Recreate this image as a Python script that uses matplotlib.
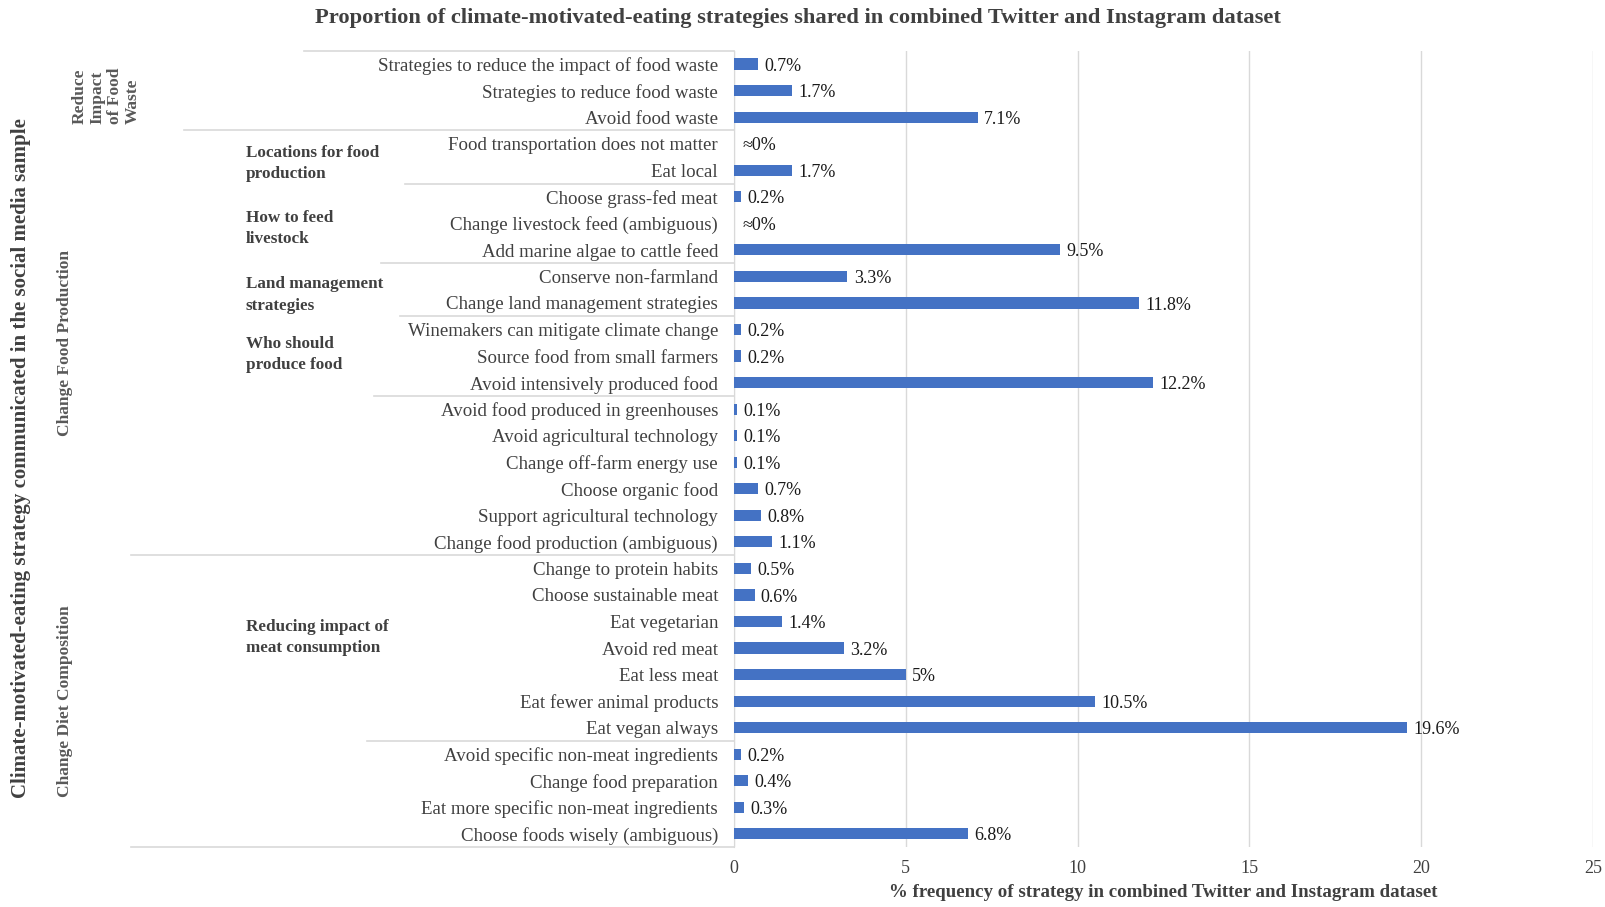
import numpy as np
import matplotlib.pyplot as plt
from matplotlib.transforms import blended_transform_factory

plt.rcParams['font.family'] = ['Liberation Serif', 'DejaVu Serif']

# data, top to bottom as in the chart
strategies = [
    "Strategies to reduce the impact of food waste",
    "Strategies to reduce food waste",
    "Avoid food waste",
    "Food transportation does not matter",
    "Eat local",
    "Choose grass-fed meat",
    "Change livestock feed (ambiguous)",
    "Add marine algae to cattle feed",
    "Conserve non-farmland",
    "Change land management strategies",
    "Winemakers can mitigate climate change",
    "Source food from small farmers",
    "Avoid intensively produced food",
    "Avoid food produced in greenhouses",
    "Avoid agricultural technology",
    "Change off-farm energy use",
    "Choose organic food",
    "Support agricultural technology",
    "Change food production (ambiguous)",
    "Change to protein habits",
    "Choose sustainable meat",
    "Eat vegetarian",
    "Avoid red meat",
    "Eat less meat",
    "Eat fewer animal products",
    "Eat vegan always",
    "Avoid specific non-meat ingredients",
    "Change food preparation",
    "Eat more specific non-meat ingredients",
    "Choose foods wisely (ambiguous)",
]
values = [0.7, 1.7, 7.1, 0.0, 1.7, 0.2, 0.0, 9.5, 3.3, 11.8, 0.2, 0.2, 12.2,
          0.1, 0.1, 0.1, 0.7, 0.8, 1.1, 0.5, 0.6, 1.4, 3.2, 5.0, 10.5, 19.6,
          0.2, 0.4, 0.3, 6.8]
value_labels = ["0.7%", "1.7%", "7.1%", "≈0%", "1.7%", "0.2%", "≈0%", "9.5%",
                "3.3%", "11.8%", "0.2%", "0.2%", "12.2%", "0.1%", "0.1%", "0.1%",
                "0.7%", "0.8%", "1.1%", "0.5%", "0.6%", "1.4%", "3.2%", "5%",
                "10.5%", "19.6%", "0.2%", "0.4%", "0.3%", "6.8%"]

# top-level groups: (label, first row, last row)
level1 = [("Reduce\nImpact\nof Food\nWaste", 0, 2),
          ("Change Food Production", 3, 18),
          ("Change Diet Composition", 19, 29)]
# sub groups: (label, row where the label sits)
level2 = [("Locations for food\nproduction", 3.75),
          ("How to feed\nlivestock", 6.2),
          ("Land management\nstrategies", 8.7),
          ("Who should\nproduce food", 10.95),
          ("Reducing impact of\nmeat consumption", 21.6)]
# separator lines: (row boundary, left start in px)
separators = [(-0.5, 304), (2.5, 184), (4.5, 405), (7.5, 381), (9.5, 400),
              (12.5, 374), (18.5, 131), (25.5, 367), (29.5, 131)]

W, H = 1606, 907
fig = plt.figure(figsize=(W / 100, H / 100), dpi=100)
ax = fig.add_axes([734 / W, 0.066, (1593 - 734) / W, 0.878])

text_col = '#404040'
grid_col = '#d9d9d9'
y = np.arange(len(strategies))
ax.barh(y, values, height=0.42, color='#4472C4', zorder=3)

for i, (v, lab) in enumerate(zip(values, value_labels)):
    dx = 6 if v == 0 else 4.5
    ax.annotate(lab, (v, i), xytext=(dx, -1.5), textcoords='offset points',
                va='center', ha='left', fontsize=13, color='#1a1a1a')

ax.set_xticks([0, 5, 10, 15, 20, 25])
ax.grid(axis='x', color=grid_col, lw=1)
ax.set_axisbelow(True)
for s in ['top', 'right', 'bottom']:
    ax.spines[s].set_visible(False)
ax.spines['left'].set_color(grid_col)
ax.set_yticks(y, strategies, fontsize=13.6, color=text_col)
ax.tick_params(axis='y', length=0, pad=11.5)
ax.tick_params(axis='x', length=0, pad=9, labelsize=13, labelcolor=text_col)
ax.set_xlabel("% frequency of strategy in combined Twitter and Instagram dataset",
              fontsize=13.6, fontweight='bold', color=text_col, labelpad=5)

trans = blended_transform_factory(fig.transFigure, ax.transData)
for yy, x0 in separators:
    ax.plot([x0 / W, 734 / W], [yy, yy], transform=trans, clip_on=False,
            color=grid_col, lw=1.2)

for lab, r in level2:
    ax.text(246 / W, r, lab, transform=trans, ha='left', va='center',
            fontsize=12.3, fontweight='bold', color=text_col, linespacing=1.45)

for lab, a, b in level1:
    if '\n' in lab:
        ax.text(106 / W, (a + b) / 2 + 0.2, lab, transform=trans, rotation=90,
                ha='center', va='center', multialignment='left',
                fontsize=12.5, fontweight='bold', color='#595959', linespacing=1.15)
    else:
        ax.text(65 / W, (a + b) / 2, lab, transform=trans, rotation=90,
                ha='center', va='center', fontsize=12.5, fontweight='bold',
                color='#595959')

fig.text(21 / W, 1 - 458 / H,
         "Climate-motivated-eating strategy communicated in the social media sample",
         rotation=90, ha='center', va='center', fontsize=15, fontweight='bold',
         color=text_col)

fig.text(798 / W, 1 - 18.5 / H,
         "Proportion of climate-motivated-eating strategies shared in combined Twitter and Instagram dataset",
         ha='center', va='center', fontsize=16.2, fontweight='bold', color=text_col)

ax.set_xlim(0, 25)
ax.set_ylim(len(strategies) - 0.5, -0.5)

fig.savefig('out.png', dpi=100)
